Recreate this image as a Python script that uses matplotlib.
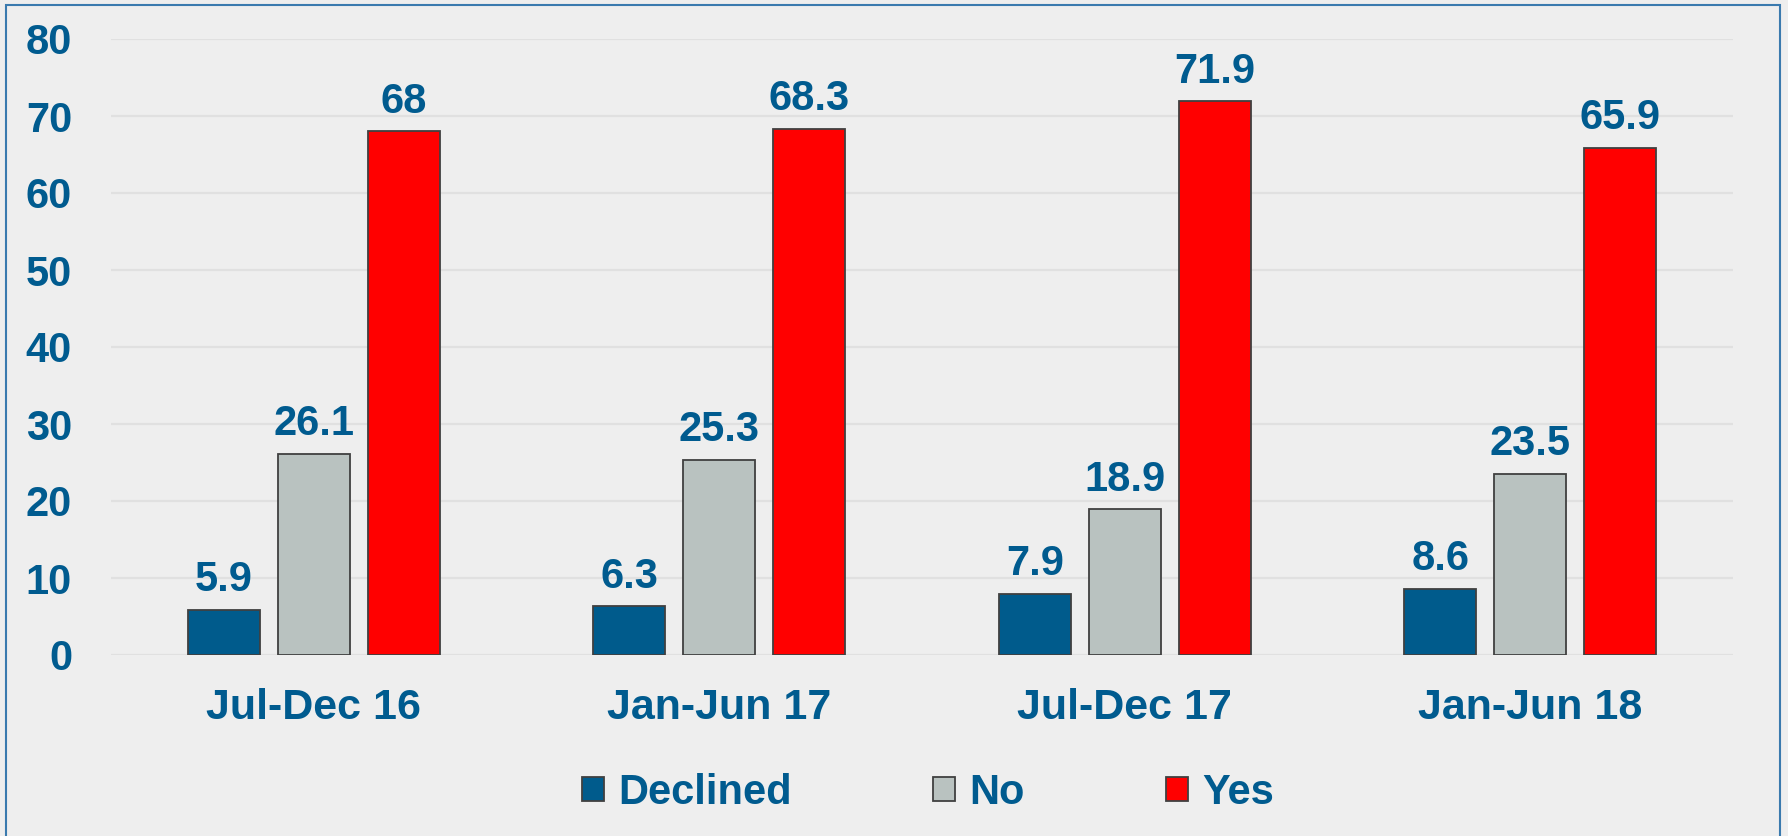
import matplotlib
matplotlib.use("Agg")
import matplotlib.pyplot as plt
import numpy as np
from matplotlib.patches import Rectangle

categories = ["Jul-Dec 16", "Jan-Jun 17", "Jul-Dec 17", "Jan-Jun 18"]
series_names = ["Declined", "No", "Yes"]
declined = [5.9, 6.3, 7.9, 8.6]
no = [26.1, 25.3, 18.9, 23.5]
yes = [68, 68.3, 71.9, 65.9]
y_ticks = [0, 10, 20, 30, 40, 50, 60, 70, 80]

colors = ["#005B8C", "#B9C2C0", "#FF0000"]
text_color = "#005B8F"
bg = "#EEEEEE"

plt.rcParams['font.family'] = ['Liberation Sans', 'DejaVu Sans']
plt.rcParams['font.weight'] = 'bold'

fig = plt.figure(figsize=(17.88, 8.36), dpi=100, facecolor=bg)
W, H = 1788, 836
ax = fig.add_axes([111 / W, 1 - 655 / H, (1733 - 111) / W, (655 - 39) / H])
ax.set_facecolor(bg)

x = np.arange(len(categories))
width = 72 / 405.5
step = 90 / 405.5
series = [declined, no, yes]
for i, (name, vals, c) in enumerate(zip(series_names, series, colors)):
    bars = ax.bar(x + (i - 1) * step, vals, width, color=c, edgecolor="#404040",
                  linewidth=1.3, label=name, zorder=3)
    ax.bar_label(bars, labels=[f"{v:g}" for v in vals], padding=7,
                 fontsize=30, fontweight='bold', color=text_color)

ax.set_xlim(-0.5, 3.5)
ax.set_ylim(0, 80)
ax.set_yticks(y_ticks)
ax.set_xticks(x)
ax.set_xticklabels(categories)
ax.tick_params(axis='y', length=0, pad=28, labelsize=30, labelcolor=text_color)
ax.tick_params(axis='x', length=0, pad=24, labelsize=31, labelcolor=text_color)
for lab in ax.get_xticklabels() + ax.get_yticklabels():
    lab.set_fontweight('bold')
for s in ax.spines.values():
    s.set_visible(False)
ax.grid(axis='y', color="#E0E0E0", linewidth=1.6, zorder=0)
ax.set_axisbelow(True)

leg = fig.legend(loc='center', bbox_to_anchor=(928 / W, 1 - 793 / H), ncol=3,
                 frameon=False, fontsize=30, handlelength=0.53, handleheight=0.5,
                 handletextpad=0.34, columnspacing=3.4, borderpad=0)
for t in leg.get_texts():
    t.set_color(text_color)
    t.set_fontweight('bold')

border = Rectangle((6 / W, -0.05), (1780 - 6) / W, 1.05 - 5 / H, transform=fig.transFigure,
                   fill=False, edgecolor="#3A7AAE", linewidth=1.5)
fig.patches.append(border)

fig.savefig("out.png", dpi=100, facecolor=bg)
